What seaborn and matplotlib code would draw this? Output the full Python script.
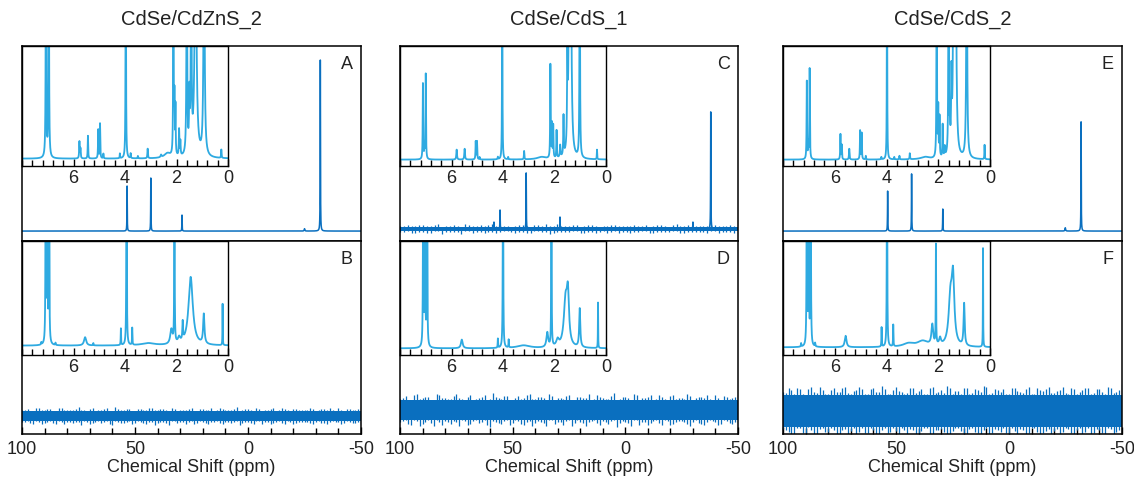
import numpy as np
import matplotlib
matplotlib.use("Agg")
import matplotlib.pyplot as plt
from matplotlib.ticker import MultipleLocator, FixedLocator
import seaborn as sns

sns.set_theme(style="white")
plt.rcParams['font.family'] = ['Liberation Sans', 'DejaVu Sans']

# ---------------- data ----------------
titles = ["CdSe/CdZnS_2", "CdSe/CdS_1", "CdSe/CdS_2"]
letters_top = ["A", "C", "E"]
letters_bot = ["B", "D", "F"]
xlabel = "Chemical Shift (ppm)"
main_ticks = [100, 50, 0, -50]
inset_ticks = [6, 4, 2, 0]

# 31P main spectra: baseline level and peaks (ppm, height, half-width)
A_base = 0.051
A_peaks = [(53.5, 0.231, 0.07), (43.0, 0.272, 0.07), (29.2, 0.082, 0.07),
           (-25.0, 0.012, 0.15), (-32.0, 0.877, 0.07)]
C_base = 0.062
C_peaks = [(58.3, 0.035, 0.07), (55.6, 0.097, 0.07), (44.0, 0.287, 0.07),
           (29.0, 0.061, 0.07), (-30.0, 0.035, 0.07), (-37.9, 0.60, 0.07)]
E_base = 0.051
E_peaks = [(53.7, 0.205, 0.07), (43.1, 0.293, 0.07), (29.3, 0.113, 0.07),
           (-24.9, 0.017, 0.15), (-31.9, 0.56, 0.07)]

# noise: solid core half-width and excursions (up / down from baseline), 100 -> -50 ppm
C_core = 0.012
C_up = [0.016, 0.022, 0.014, 0.019, 0.013, 0.024, 0.015, 0.018, 0.012, 0.021, 0.016, 0.014,
        0.023, 0.013, 0.017, 0.015, 0.02, 0.012, 0.018, 0.025, 0.014, 0.016, 0.013, 0.021,
        0.015, 0.019, 0.012, 0.017, 0.022, 0.014, 0.016, 0.013, 0.02, 0.015, 0.018, 0.012,
        0.023, 0.014, 0.017, 0.016, 0.013, 0.021, 0.015, 0.019, 0.014]
C_dn = [0.015, 0.013, 0.02, 0.014, 0.022, 0.012, 0.017, 0.015, 0.024, 0.013, 0.018, 0.02,
        0.014, 0.016, 0.012, 0.021, 0.015, 0.019, 0.013, 0.016, 0.023, 0.014, 0.018, 0.012,
        0.02, 0.015, 0.017, 0.022, 0.013, 0.016, 0.019, 0.014, 0.012, 0.021, 0.015, 0.018,
        0.013, 0.02, 0.016, 0.014, 0.022, 0.013, 0.017, 0.015, 0.019]
B_base, B_core = 0.093, 0.027
B_up = [0.03, 0.038, 0.027, 0.042, 0.031, 0.035, 0.026, 0.04, 0.032, 0.029, 0.045, 0.03,
        0.036, 0.027, 0.033, 0.041, 0.028, 0.034, 0.03, 0.039, 0.026, 0.037, 0.031, 0.044,
        0.029, 0.035, 0.027, 0.038, 0.032, 0.03, 0.042, 0.028, 0.036, 0.031, 0.027, 0.04,
        0.033, 0.029, 0.046, 0.03, 0.035, 0.028, 0.039, 0.031, 0.034, 0.027, 0.041, 0.03,
        0.037, 0.029, 0.033, 0.043, 0.028, 0.036, 0.031, 0.03, 0.04, 0.027, 0.035, 0.032, 0.045]
B_dn = [0.033, 0.028, 0.04, 0.03, 0.036, 0.027, 0.043, 0.031, 0.029, 0.038, 0.032, 0.026,
        0.041, 0.03, 0.035, 0.028, 0.046, 0.031, 0.037, 0.027, 0.034, 0.03, 0.04, 0.029,
        0.036, 0.032, 0.044, 0.028, 0.033, 0.039, 0.027, 0.035, 0.031, 0.042, 0.029, 0.034,
        0.03, 0.038, 0.028, 0.036, 0.031, 0.043, 0.027, 0.033, 0.04, 0.03, 0.035, 0.028,
        0.039, 0.032, 0.029, 0.037, 0.031, 0.034, 0.041, 0.028, 0.033, 0.038, 0.03, 0.036, 0.04]
D_base, D_core = 0.124, 0.052
D_up = [0.058, 0.072, 0.052, 0.081, 0.06, 0.068, 0.05, 0.077, 0.063, 0.055, 0.084, 0.057,
        0.07, 0.053, 0.064, 0.079, 0.056, 0.066, 0.059, 0.075, 0.051, 0.071, 0.061, 0.083,
        0.055, 0.067, 0.052, 0.074, 0.062, 0.058, 0.08, 0.054, 0.069, 0.06, 0.052, 0.078,
        0.064, 0.056, 0.086, 0.058, 0.068, 0.053, 0.076, 0.061, 0.066, 0.052, 0.079, 0.057,
        0.072, 0.055, 0.064, 0.082, 0.054, 0.07, 0.06, 0.058, 0.077, 0.052, 0.068, 0.062, 0.08]
D_dn = [0.063, 0.054, 0.077, 0.058, 0.07, 0.052, 0.082, 0.06, 0.056, 0.074, 0.062, 0.051,
        0.079, 0.058, 0.067, 0.054, 0.088, 0.06, 0.071, 0.052, 0.065, 0.058, 0.078, 0.056,
        0.069, 0.062, 0.084, 0.054, 0.064, 0.075, 0.052, 0.067, 0.06, 0.081, 0.056, 0.066,
        0.058, 0.073, 0.054, 0.069, 0.06, 0.083, 0.052, 0.064, 0.077, 0.058, 0.068, 0.054,
        0.076, 0.062, 0.056, 0.072, 0.06, 0.066, 0.079, 0.054, 0.064, 0.074, 0.058, 0.07, 0.065]
F_base, F_core = 0.119, 0.085
F_up = [0.1, 0.12, 0.09, 0.115, 0.085, 0.125, 0.095, 0.11, 0.088, 0.118, 0.1, 0.122,
        0.09, 0.108, 0.115, 0.087, 0.12, 0.098, 0.112, 0.09, 0.125, 0.1, 0.093, 0.117,
        0.105, 0.088, 0.12, 0.096, 0.11, 0.13, 0.09, 0.104, 0.118, 0.087, 0.112, 0.1,
        0.123, 0.092, 0.108, 0.116, 0.089, 0.12, 0.097, 0.113, 0.086, 0.119, 0.102, 0.125,
        0.091, 0.11, 0.095, 0.118, 0.088, 0.107, 0.121, 0.094, 0.114, 0.09, 0.12, 0.1, 0.14]
F_dn = [0.095, 0.108, 0.12, 0.09, 0.113, 0.098, 0.125, 0.087, 0.11, 0.1, 0.118, 0.092,
        0.106, 0.122, 0.088, 0.115, 0.097, 0.128, 0.09, 0.111, 0.103, 0.087, 0.119, 0.096,
        0.114, 0.089, 0.124, 0.1, 0.092, 0.117, 0.106, 0.088, 0.121, 0.095, 0.11, 0.13,
        0.09, 0.113, 0.099, 0.087, 0.12, 0.104, 0.093, 0.126, 0.089, 0.109, 0.116, 0.091,
        0.105, 0.122, 0.088, 0.112, 0.097, 0.119, 0.09, 0.115, 0.1, 0.124, 0.092, 0.108, 0.11]

# 1H inset spectra: baseline and peaks (ppm, height, half-width); heights > 1 are clipped
iA_base = 0.061
iA_peaks = [(7.07, 2.0, 0.012), (6.96, 2.0, 0.012), (5.77, 0.14, 0.012), (5.73, 0.08, 0.012),
            (5.44, 0.19, 0.010), (5.04, 0.24, 0.010), (4.97, 0.29, 0.010), (4.84, 0.04, 0.010),
            (4.20, 0.04, 0.008), (3.97, 2.0, 0.010), (3.78, 0.04, 0.008), (3.50, 0.02, 0.010),
            (3.12, 0.08, 0.012), (2.60, 0.02, 0.02), (2.35, 0.04, 0.15), (2.12, 2.0, 0.010),
            (2.08, 0.45, 0.010), (2.04, 0.40, 0.010), (1.90, 0.22, 0.012), (1.85, 0.12, 0.012),
            (1.60, 2.0, 0.015), (1.50, 0.45, 0.015), (1.43, 2.0, 0.015), (1.26, 2.0, 0.04),
            (0.93, 2.0, 0.025), (0.26, 0.07, 0.010)]
iC_base = 0.053
iC_peaks = [(7.11, 0.63, 0.010), (7.05, 0.10, 0.010), (7.00, 0.71, 0.010), (5.80, 0.083, 0.015),
            (5.49, 0.09, 0.015), (5.06, 0.15, 0.010), (5.01, 0.15, 0.010), (4.91, 0.02, 0.010),
            (4.20, 0.02, 0.010), (4.03, 2.0, 0.008), (3.80, 0.02, 0.010), (3.18, 0.07, 0.010),
            (2.50, 0.02, 0.2), (2.16, 0.78, 0.010), (2.10, 0.28, 0.010), (2.05, 0.27, 0.010),
            (1.92, 0.23, 0.010), (1.78, 0.10, 0.015), (1.65, 0.33, 0.012), (1.50, 0.70, 0.015),
            (1.43, 2.0, 0.02), (1.37, 2.0, 0.03), (1.02, 2.0, 0.012), (0.35, 0.08, 0.008)]
iE_base = 0.053
iE_peaks = [(7.08, 0.65, 0.010), (7.02, 0.12, 0.010), (6.97, 0.755, 0.010), (5.78, 0.21, 0.010),
            (5.73, 0.12, 0.010), (5.44, 0.09, 0.012), (5.02, 0.24, 0.010), (4.96, 0.22, 0.010),
            (4.80, 0.03, 0.010), (4.20, 0.02, 0.010), (3.98, 2.0, 0.008), (3.70, 0.02, 0.010),
            (3.50, 0.03, 0.010), (3.10, 0.05, 0.010), (2.50, 0.02, 0.2), (2.06, 2.0, 0.010),
            (2.00, 0.40, 0.010), (1.95, 0.33, 0.010), (1.83, 0.27, 0.010), (1.75, 0.08, 0.012),
            (1.60, 2.0, 0.012), (1.55, 0.15, 0.015), (1.49, 0.60, 0.015), (1.41, 2.0, 0.02),
            (1.33, 2.0, 0.03), (0.90, 2.0, 0.02), (0.21, 0.12, 0.008)]
iB_base = 0.082
iB_peaks = [(7.25, 0.02, 0.01), (7.08, 2.0, 0.010), (7.02, 2.0, 0.010), (6.95, 2.0, 0.010),
            (6.70, 0.02, 0.01), (5.55, 0.073, 0.05), (5.23, 0.02, 0.01), (4.16, 0.146, 0.008),
            (3.94, 2.0, 0.010), (3.72, 0.15, 0.008), (3.10, 0.02, 0.3), (2.20, 0.13, 0.05),
            (2.08, 2.0, 0.008), (1.90, 0.05, 0.05), (1.76, 0.16, 0.015), (1.45, 0.60, 0.10),
            (0.94, 0.26, 0.03), (0.21, 0.365, 0.006)]
iD_base = 0.058
iD_peaks = [(7.10, 2.0, 0.010), (7.03, 2.0, 0.010), (6.95, 2.0, 0.010), (5.60, 0.076, 0.04),
            (4.20, 0.08, 0.008), (4.00, 2.0, 0.010), (3.78, 0.07, 0.008), (3.20, 0.025, 0.3),
            (2.28, 0.13, 0.04), (2.12, 2.0, 0.008), (1.88, 0.06, 0.06), (1.57, 0.40, 0.08),
            (1.48, 0.40, 0.05), (1.02, 0.34, 0.025), (0.31, 0.40, 0.006)]
iF_base = 0.067
iF_peaks = [(7.30, 0.03, 0.01), (7.08, 2.0, 0.010), (7.01, 2.0, 0.010), (6.93, 2.0, 0.010),
            (6.76, 0.03, 0.01), (5.58, 0.10, 0.04), (4.19, 0.17, 0.008), (3.98, 2.0, 0.010),
            (3.74, 0.19, 0.008), (3.15, 0.03, 0.25), (2.60, 0.05, 0.25), (2.23, 0.18, 0.04),
            (2.09, 0.87, 0.008), (1.93, 0.06, 0.04), (1.53, 0.40, 0.08), (1.43, 0.55, 0.06),
            (1.00, 0.37, 0.025), (0.27, 0.87, 0.006)]

# ---------------- style ----------------
MAIN_COLOR = "#0A6FBF"
INSET_COLOR = "#2EAAE1"
TEXT_COLOR = "#222222"
W, H = 1134, 481


def lorentz_sum(x, base, peaks):
    y = np.full_like(x, base, dtype=float)
    for p, h, w in peaks:
        y += h * w ** 2 / ((x - p) ** 2 + w ** 2)
    return y


def rect(x0, y0, x1, y1):
    return [x0 / W, 1 - y1 / H, (x1 - x0) / W, (y1 - y0) / H]


def draw_noise(ax, base, core, up, dn):
    up = np.asarray(up)
    dn = np.asarray(dn)
    n = len(up)
    step = 150.0 / (n - 1)
    pos = np.linspace(100, -50, n)
    ax.fill_between([100, -50], base - core, base + core, color=MAIN_COLOR, lw=0)
    ax.vlines(pos, base - dn, base + up, color=MAIN_COLOR, lw=0.9)
    mid = pos[:-1] - step / 2
    ax.vlines(mid, base - up[:-1], base + dn[:-1], color=MAIN_COLOR, lw=0.9)


fig = plt.figure(figsize=(W / 100, H / 100), dpi=100)

col_x = [(22, 361), (400, 738), (783, 1122)]
inset_right = [228, 606, 990]
top_rows = (47, 242)
bot_rows = (242, 435)

main_x = np.linspace(100, -50, 15001)
ins_x = np.linspace(8.2, -0.2, 8001)

top_data = [(A_base, A_peaks, None), (C_base, C_peaks, (C_core, C_up, C_dn)),
            (E_base, E_peaks, None)]
bot_data = [(B_base, B_core, B_up, B_dn), (D_base, D_core, D_up, D_dn),
            (F_base, F_core, F_up, F_dn)]
ins_top = [(iA_base, iA_peaks), (iC_base, iC_peaks), (iE_base, iE_peaks)]
ins_bot = [(iB_base, iB_peaks), (iD_base, iD_peaks), (iF_base, iF_peaks)]


def style_main(ax, bottom_ticks):
    ax.set_xlim(100, -50)
    ax.set_ylim(0, 1)
    ax.set_yticks([])
    for s in ax.spines.values():
        s.set_color("black")
        s.set_linewidth(1.1)
    if bottom_ticks:
        ax.xaxis.set_major_locator(FixedLocator(main_ticks))
        ax.xaxis.set_minor_locator(MultipleLocator(10))
        ax.tick_params(axis="x", which="both", direction="in", bottom=True, top=False,
                       colors="black", labelsize=13, pad=4)
        ax.tick_params(axis="x", which="major", length=5, width=1)
        ax.tick_params(axis="x", which="minor", length=4, width=1)
        ax.set_xticklabels([str(t) for t in main_ticks], color=TEXT_COLOR)
        ax.set_xlabel(xlabel, fontsize=13, color=TEXT_COLOR, labelpad=1)
    else:
        ax.set_xticks([])


def draw_inset(rect_px, base, peaks):
    ax = fig.add_axes(rect(*rect_px))
    ax.set_facecolor("white")
    y = lorentz_sum(ins_x, base, peaks)
    sns.lineplot(x=ins_x, y=y, ax=ax, color=INSET_COLOR, lw=1.3, estimator=None, sort=False)
    ax.set_xlim(8.0, 0)
    ax.set_ylim(0, 1)
    ax.set_yticks([])
    ax.xaxis.set_major_locator(FixedLocator(inset_ticks))
    ax.xaxis.set_minor_locator(MultipleLocator(0.4))
    ax.tick_params(axis="x", which="both", direction="in", bottom=True, top=False,
                   colors="black", labelsize=13, pad=2)
    ax.tick_params(axis="x", which="major", length=5, width=1)
    ax.tick_params(axis="x", which="minor", length=4, width=1)
    ax.set_xticklabels([str(t) for t in inset_ticks], color=TEXT_COLOR)
    for s in ax.spines.values():
        s.set_color("black")
        s.set_linewidth(1.0)
    return ax


for i in range(3):
    x0, x1 = col_x[i]
    # ---- top panel ----
    ax = fig.add_axes(rect(x0, top_rows[0], x1, top_rows[1]))
    base, peaks, env = top_data[i]
    if env is not None:
        draw_noise(ax, base, *env)
    y = lorentz_sum(main_x, base, peaks)
    sns.lineplot(x=main_x, y=y, ax=ax, color=MAIN_COLOR, lw=1.1, estimator=None, sort=False)
    style_main(ax, False)
    ax.text(0.975, 0.955, letters_top[i], transform=ax.transAxes, ha="right", va="top",
            fontsize=13, color=TEXT_COLOR)
    draw_inset((x0, top_rows[0], inset_right[i], 167), *ins_top[i])

    # ---- bottom panel ----
    ax = fig.add_axes(rect(x0, bot_rows[0], x1, bot_rows[1]))
    draw_noise(ax, *bot_data[i])
    style_main(ax, True)
    ax.text(0.975, 0.955, letters_bot[i], transform=ax.transAxes, ha="right", va="top",
            fontsize=13, color=TEXT_COLOR)
    draw_inset((x0, bot_rows[0], inset_right[i], 356), *ins_bot[i])

    # column title
    fig.text((x0 + x1) / 2 / W, 1 - 19 / H, titles[i], ha="center", va="center",
             fontsize=14.5, color=TEXT_COLOR)

fig.savefig("out.png", dpi=100)
